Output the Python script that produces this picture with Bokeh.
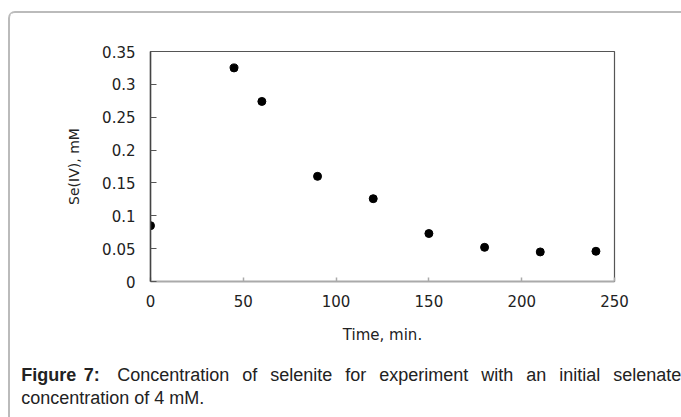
from bokeh.plotting import figure
from bokeh.layouts import column, row
from bokeh.models import Range1d, FixedTicker, Label, ColumnDataSource
from bokeh.embed import file_html
from bokeh.resources import INLINE

# ---- data ----
time_min = [0, 45, 60, 90, 120, 150, 180, 210, 240]
se_iv_mM = [0.085, 0.325, 0.274, 0.160, 0.126, 0.073, 0.052, 0.045, 0.046]

x_ticks = [0, 50, 100, 150, 200, 250]
x_tick_labels = ["0", "50", "100", "150", "200", "250"]
y_ticks = [0, 0.05, 0.1, 0.15, 0.2, 0.25, 0.3, 0.35]
y_tick_labels = ["0", "0.05", "0.1", "0.15", "0.2", "0.25", "0.3", "0.35"]

x_title = "Time, min."
y_title = "Se(IV), mM"
caption_bold = ["Figure", "7:"]
caption_line1 = ["Concentration", "of", "selenite", "for", "experiment",
                 "with", "an", "initial", "selenate"]
caption_line2 = "concentration of 4 mM."

TXT = "#222222"
FONT = "DejaVu Sans"
CAP_FONT = "Liberation Sans"

W = 671  # inner width (page box starts at x=8 with a 2px border)

p = figure(frame_width=464, frame_height=230,
           min_border_left=140, min_border_right=67,
           min_border_top=38, min_border_bottom=69,
           x_range=Range1d(0, 250), y_range=Range1d(0, 0.35),
           output_backend="svg", toolbar_location=None,
           background_fill_color="white", border_fill_color="white")

p.grid.visible = False
p.outline_line_color = "#555555"
p.outline_line_width = 1.2

# x axis
xa = p.xaxis[0]
xa.ticker = FixedTicker(ticks=x_ticks)
xa.major_label_overrides = {t: l for t, l in zip(x_ticks, x_tick_labels)}
xa.axis_line_color = "#aaaaaa"
xa.axis_line_width = 2
xa.major_tick_line_color = "#aaaaaa"
xa.major_tick_line_width = 1.5
xa.major_tick_in = 4
xa.major_tick_out = 0
xa.minor_tick_line_color = None
xa.major_label_text_font = FONT
xa.major_label_text_font_size = "15px"
xa.major_label_text_color = TXT
xa.major_label_standoff = 13
xa.axis_label = x_title
xa.axis_label_text_font = FONT
xa.axis_label_text_font_style = "normal"
xa.axis_label_text_font_size = "15px"
xa.axis_label_text_color = TXT
xa.axis_label_standoff = 16

# y axis
ya = p.yaxis[0]
ya.ticker = FixedTicker(ticks=y_ticks)
ya.major_label_overrides = {t: l for t, l in zip(y_ticks, y_tick_labels)}
ya.axis_line_color = "#444444"
ya.axis_line_width = 1.5
ya.major_tick_line_color = "#555555"
ya.major_tick_line_width = 1
ya.major_tick_in = 6
ya.major_tick_out = 0
ya.minor_tick_line_color = None
ya.major_label_text_font = FONT
ya.major_label_text_font_size = "15px"
ya.major_label_text_color = TXT
ya.major_label_standoff = 15
ya.axis_label = y_title
ya.axis_label_text_font = FONT
ya.axis_label_text_font_style = "normal"
ya.axis_label_text_font_size = "14px"
ya.axis_label_text_color = TXT
ya.axis_label_standoff = 17

src = ColumnDataSource(dict(x=time_min, y=se_iv_mM))
p.scatter("x", "y", source=src, size=8, fill_color="black", line_color="black")

# ---- caption figure (frame fills the canvas) ----
CH = 67
cap = figure(frame_width=W, frame_height=CH, min_border=0,
             x_range=Range1d(0, W), y_range=Range1d(CH, 0),
             x_axis_type=None, y_axis_type=None,
             output_backend="svg", toolbar_location=None,
             background_fill_color="white", border_fill_color="white")
cap.grid.visible = False
cap.outline_line_color = None

y1, y2 = 24, 47.5
bold_x = [10.7, 73.3]
for w, x in zip(caption_bold, bold_x):
    cap.add_layout(Label(x=x, y=y1, x_units="canvas", y_units="canvas", text=w,
                         text_font=CAP_FONT, text_font_size="18px", text_font_style="bold",
                         text_color=TXT, text_baseline="middle", text_align="left"))
line1_x = [106.7, 231.7, 259.7, 334.7, 368.7, 470.7, 515.7, 548.7, 602.7]
for w, x in zip(caption_line1, line1_x):
    cap.add_layout(Label(x=x, y=y1, x_units="canvas", y_units="canvas", text=w,
                         text_font=CAP_FONT, text_font_size="18px",
                         text_color=TXT, text_baseline="middle", text_align="left"))
cap.add_layout(Label(x=10.7, y=y2, x_units="canvas", y_units="canvas", text=caption_line2,
                     text_font=CAP_FONT, text_font_size="18px",
                     text_color=TXT, text_baseline="middle", text_align="left"))

layout = column(row(p), row(cap), spacing=0, margin=(11, 0, 0, 8),
                styles={"border-left": "2px solid #bbbbbb",
                        "border-top": "2px solid #bbbbbb",
                        "border-top-left-radius": "7px"})

open("out.html", "w").write(file_html(layout, INLINE))
